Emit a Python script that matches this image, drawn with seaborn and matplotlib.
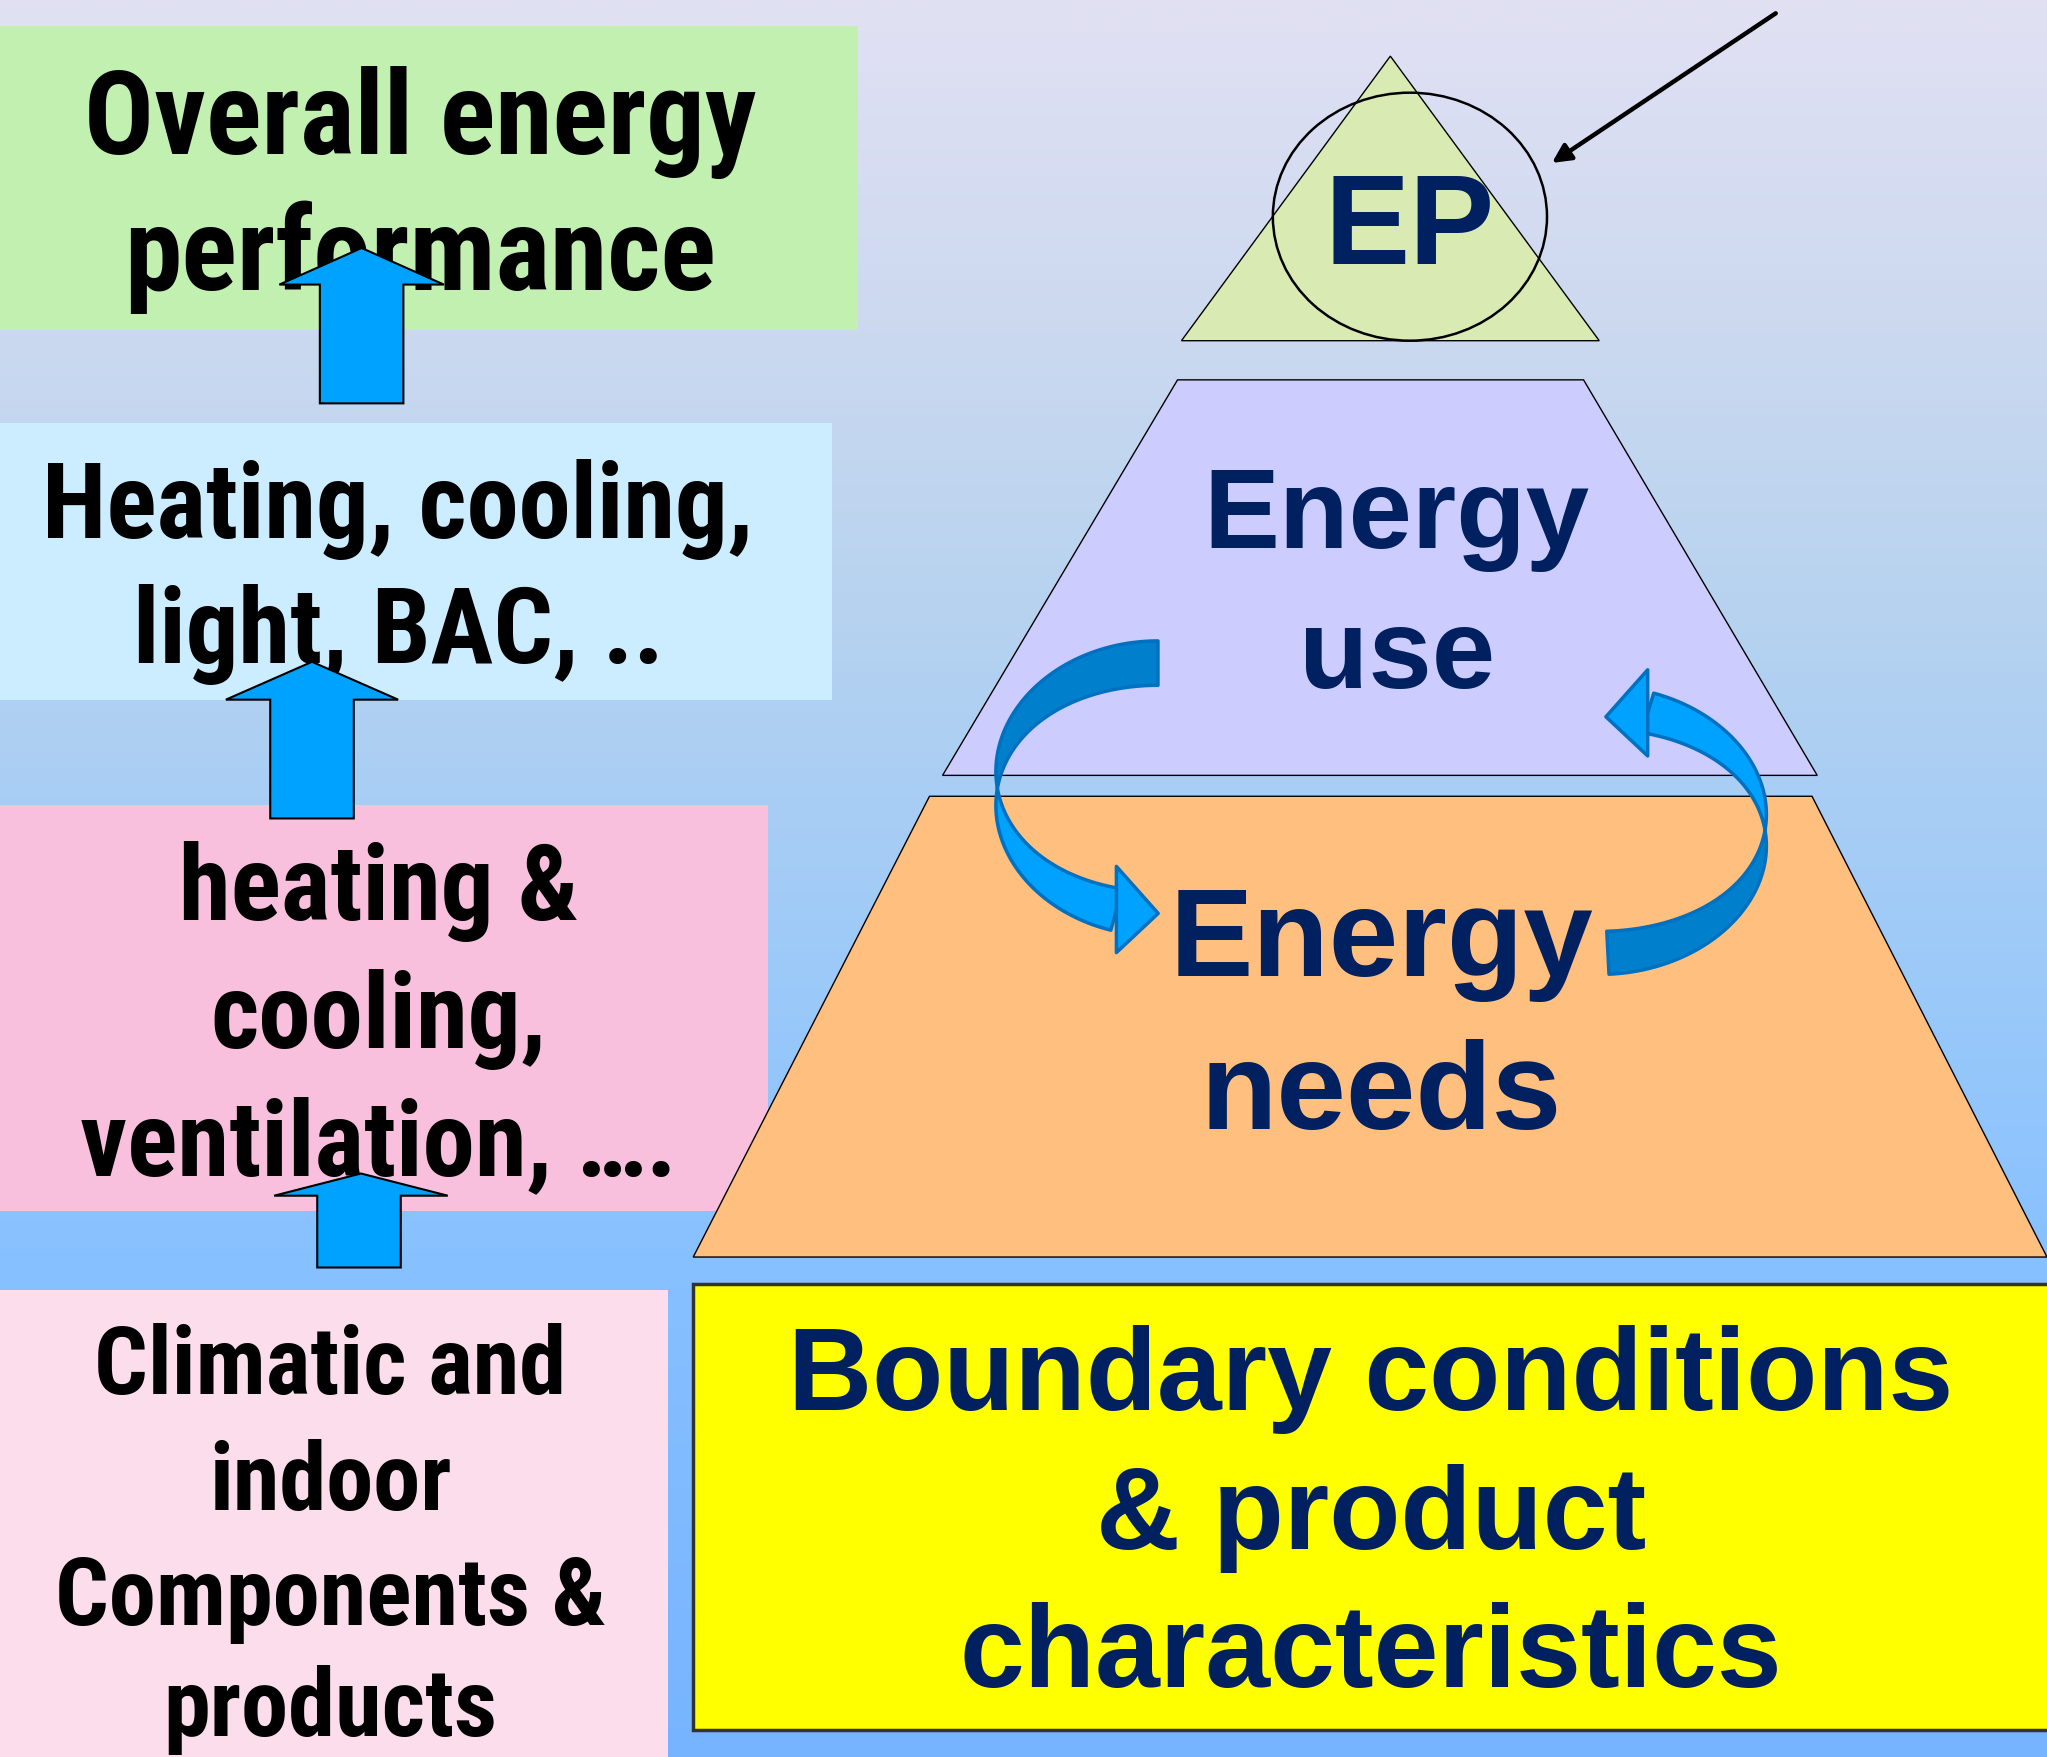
import numpy as np
import matplotlib
matplotlib.use("Agg")
import matplotlib.pyplot as plt
import seaborn as sns
from matplotlib import font_manager
from matplotlib.font_manager import FontProperties
from matplotlib.textpath import TextPath
from matplotlib.patches import Polygon, Rectangle, Ellipse

# 텍스트 (왼쪽 상자들)
left_lines = [
    ["Overall energy", "performance"],
    ["Heating, cooling,", "light, BAC, .."],
    ["heating &", "cooling,", "ventilation, …."],
    ["Climatic and", "indoor", "Components &", "products"],
]
left_x = [322, 305, 290, 253]
left_base = [[118, 222], [412, 508], [705, 803, 900], [1068, 1157, 1245, 1330]]
# 글자 폭 맞춤용 기준 줄과 폭
left_ref = ["Overall energy", "Heating, cooling,", "heating &", "Climatic and"]
left_ref_w = [510, 536, 301, 355]
left_colors = ["#C2F0B0", "#CCECFF", "#F9C0DD", "#FCDDEC"]
left_boxes = [(0, 20, 657, 253), (0, 324, 637, 536), (0, 617, 588, 928), (0, 988, 512, 1346)]

# 피라미드 텍스트
pyr_lines = [["EP"], ["Energy", "use"], ["Energy", "needs"],
             ["Boundary conditions", "& product", "characteristics"]]
pyr_x = [1080, 1070, 1058, 1050]
pyr_base = [[202], [420, 527], [748, 865], [1080, 1187, 1292]]
pyr_size = [92, 82, 90, 84]

sns.set_theme(style="white")
plt.rcParams["font.family"] = ["Liberation Sans", "DejaVu Sans"]


def as_weight(w):
    if isinstance(w, str):
        return font_manager.weight_dict.get(w, 400)
    return w


def pick_narrow():
    # 좁은 굵은 글꼴 찾기 (Arial Narrow 비슷한 것)
    prefs = ["Liberation Sans Narrow", "Arial Narrow", "Roboto Condensed",
             "Open Sans Condensed", "Noto Sans", "Open Sans", "Roboto", "Lato"]
    fl = font_manager.fontManager.ttflist
    for p in prefs:
        for f in fl:
            narrow = ("Narrow" in f.name or "Condensed" in f.name
                      or str(f.stretch) in ("condensed", "semi-condensed", "extra-condensed")
                      or (isinstance(f.stretch, int) and f.stretch < 500))
            if f.name.startswith(p) and narrow and as_weight(f.weight) >= 600 \
                    and f.style == "normal":
                return FontProperties(fname=f.fname)
    return FontProperties(family="Liberation Sans", weight="bold")


narrow_fp = pick_narrow()

W, H = 1568, 1346
SCALE = 2047 / W
fig = plt.figure(figsize=(20.47, 17.57), dpi=100)
ax = fig.add_axes([0, 0, 1, 1])
ax.set_xlim(0, W)
ax.set_ylim(H, 0)
ax.axis("off")

# 배경 그라데이션
stops_y = [0, 23, 214, 452, 789, 957, 1346]
stops_c = np.array([(225, 225, 243), (224, 224, 243), (207, 218, 240), (184, 211, 239),
                    (152, 200, 250), (136, 193, 255), (119, 180, 255)]) / 255
yy = np.arange(H)
grad = np.stack([np.interp(yy, stops_y, stops_c[:, k]) for k in range(3)], axis=-1)
ax.imshow(grad[:, None, :], extent=[0, W, H, 0], aspect="auto", zorder=0)

# 왼쪽 상자
for (x0, y0, x1, y1), c in zip(left_boxes, left_colors):
    ax.add_patch(Rectangle((x0, y0), x1 - x0, y1 - y0, fc=c, ec="none", zorder=1))
for lines, x, bases, ref, ref_w in zip(left_lines, left_x, left_base, left_ref, left_ref_w):
    w_pt = TextPath((0, 0), ref, size=100, prop=narrow_fp).get_extents().width
    size = 100 * ref_w * SCALE / (w_pt * 100 / 72)
    for t, b in zip(lines, bases):
        fp = narrow_fp.copy()
        fp.set_size(size)
        ax.text(x, b, t, ha="center", va="baseline", fontproperties=fp,
                color="black", zorder=3)

# 위쪽 화살표 (shaft x0, x1, bottom, head base, head x0, x1, tip)
up_arrows = [(245, 309, 309, 218, 214, 340, 190),
             (207, 271, 627, 536, 173, 305, 507),
             (243, 307, 971, 916, 210, 343, 899)]
for sx0, sx1, bot, hb, hx0, hx1, tip in up_arrows:
    pts = [(sx0, bot), (sx0, hb), (hx0, hb), ((hx0 + hx1) / 2, tip),
           (hx1, hb), (sx1, hb), (sx1, bot)]
    ax.add_patch(Polygon(pts, closed=True, fc="#00A2FF", ec="black", lw=1.5, zorder=4))

# 피라미드
ax.add_patch(Polygon([(531, 963), (712, 610), (1388, 610), (1568, 963)],
                     fc="#FFBF7F", ec="black", lw=1, zorder=1))
ax.add_patch(Polygon([(722, 594), (902, 291), (1213, 291), (1392, 594)],
                     fc="#CCCCFF", ec="black", lw=1, zorder=1))
ax.add_patch(Polygon([(905, 261), (1065, 43), (1225, 261)],
                     fc="#D9EAB3", ec="black", lw=1, zorder=1))
ax.add_patch(Rectangle((531, 984), 1100, 341, fc="#FFFF00", ec="#333333", lw=2.5, zorder=1))
ax.add_patch(Ellipse((1080, 166), 210, 190, fill=False, ec="black", lw=1.8, zorder=3))
ax.annotate("", xy=(1187, 126), xytext=(1362, 9),
            arrowprops=dict(arrowstyle="-|>", color="black", lw=3.2, mutation_scale=28),
            zorder=3)

for lines, x, bases, s in zip(pyr_lines, pyr_x, pyr_base, pyr_size):
    for t, b in zip(lines, bases):
        ax.text(x, b, t, ha="center", va="baseline", fontsize=s,
                fontweight="bold", color="#002060", zorder=4)


# 휘어진 리본 화살표
def ribbon(cx, cy, a, b, th0, th1, twist, wmax, head_dir):
    for lo, hi, col in [(th0, twist, "#0080CC"), (twist, th1, "#00A2FF")]:
        th = np.radians(np.linspace(lo, hi, 80))
        w = wmax * np.abs(np.sin(th)) / 2
        outer = np.c_[cx + (a + w) * np.cos(th), cy - (b + w) * np.sin(th)]
        inner = np.c_[cx + (a - w) * np.cos(th), cy - (b - w) * np.sin(th)]
        ax.add_patch(Polygon(np.r_[outer, inner[::-1]], closed=True, fc=col,
                             ec="#0070C0", lw=2.5, zorder=3, joinstyle="round"))
    te = np.radians(th1)
    xe, ye = cx + a * np.cos(te), cy - b * np.sin(te)
    ax.add_patch(Polygon([(xe, ye - 33), (xe + head_dir * 32, ye + 3), (xe, ye + 33)],
                         closed=True, fc="#00A2FF", ec="#0070C0", lw=2.5, zorder=3,
                         joinstyle="round"))


ribbon(887, 604, 123, 96, 90, 255, 180, 34, 1)
ribbon(1225, 636, 127, 94, -87, 73, 0, 33, -1)

fig.savefig("out.png", dpi=100)
